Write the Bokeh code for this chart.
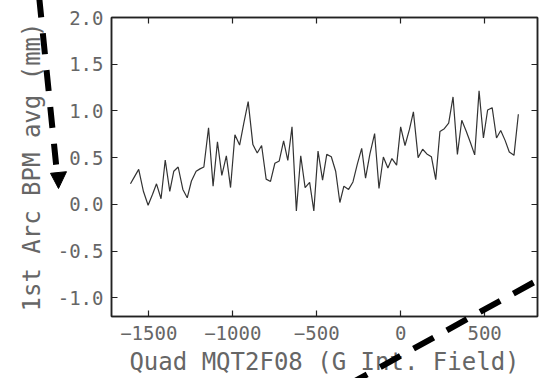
from bokeh.plotting import figure
from bokeh.models import LinearAxis, FixedTicker, PrintfTickFormatter, Range1d
from bokeh.embed import file_html
from bokeh.resources import INLINE

# Quadrupole integrated field scan and the averaged 1st-arc BPM reading
quad_field = [
    -1609, -1584, -1560, -1532, -1504, -1478, -1454, -1427, -1402, -1375,
    -1351, -1325, -1297, -1271, -1246, -1218, -1195, -1172, -1144, -1117,
    -1091, -1065, -1038, -1013, -987, -959, -934, -908, -880, -854,
    -828, -801, -775, -749, -723, -697, -672, -647, -621, -595,
    -569, -542, -517, -492, -465, -440, -413, -387, -362, -338,
    -310, -284, -258, -232, -209, -183, -155, -129, -103, -76,
    -52, -24, 0, 26, 52, 76, 104, 131, 156, 183,
    209, 234, 260, 286, 312, 338, 364, 390, 416, 441,
    467, 493, 518, 545, 571, 596, 622, 647, 675, 701,
]
bpm_avg = [
    0.22, 0.30, 0.375, 0.14, -0.01, 0.105, 0.22, 0.06, 0.475, 0.14,
    0.355, 0.40, 0.16, 0.07, 0.25, 0.355, 0.38, 0.40, 0.82, 0.195,
    0.67, 0.31, 0.52, 0.18, 0.745, 0.635, 0.87, 1.10, 0.64, 0.55,
    0.63, 0.27, 0.245, 0.44, 0.465, 0.68, 0.47, 0.83, -0.07, 0.52,
    0.18, 0.235, -0.07, 0.57, 0.26, 0.535, 0.51, 0.355, 0.02, 0.195,
    0.16, 0.24, 0.43, 0.60, 0.28, 0.54, 0.757, 0.17, 0.507, 0.39,
    0.49, 0.42, 0.83, 0.63, 0.80, 0.99, 0.50, 0.59, 0.54, 0.51,
    0.265, 0.78, 0.81, 0.87, 1.15, 0.535, 0.90, 0.785, 0.66, 0.53,
    1.215, 0.71, 1.01, 1.035, 0.71, 0.79, 0.685, 0.56, 0.525, 0.965,
]
x_ticks = [-1500, -1000, -500, 0, 500]
y_ticks = [-1.0, -0.5, 0.0, 0.5, 1.0, 1.5, 2.0]

FONT = "DejaVu Sans Mono"
TEXT_COLOR = "#666666"
FRAME_COLOR = "#222222"

X_LO, X_HI = -1722, 815
Y_LO, Y_HI = -1.2, 2.0
W, H = 539, 378
LEFT, RIGHT, TOP, BOTTOM = 111, 2, 17, 62
FRAME_W = W - LEFT - RIGHT
FRAME_H = H - TOP - BOTTOM

p = figure(width=W, height=H, output_backend="svg", toolbar_location=None,
           x_range=Range1d(X_LO, X_HI), y_range=Range1d(Y_LO, Y_HI),
           min_border_left=LEFT, min_border_right=RIGHT,
           min_border_top=TOP, min_border_bottom=BOTTOM)
p.grid.visible = False
p.background_fill_color = "white"
p.border_fill_color = "white"
p.outline_line_color = FRAME_COLOR
p.outline_line_width = 1.5

p.line(quad_field, bpm_avg, line_color="#333333", line_width=1.2)


def style_axis(ax, ticks, show_labels=True):
    ax.ticker = FixedTicker(ticks=ticks)
    ax.axis_line_color = FRAME_COLOR
    ax.axis_line_width = 1.5
    ax.major_tick_in = 6
    ax.major_tick_out = 0
    ax.major_tick_line_color = FRAME_COLOR
    ax.major_tick_line_width = 1.2
    ax.minor_tick_line_color = None
    if show_labels:
        ax.major_label_text_font = FONT
        ax.major_label_text_font_size = "19px"
        ax.major_label_text_color = TEXT_COLOR
        ax.axis_label_text_font = FONT
        ax.axis_label_text_font_size = "24px"
        ax.axis_label_text_font_style = "normal"
        ax.axis_label_text_color = TEXT_COLOR
    else:
        # tick marks only, no labels on the mirrored axes
        ax.major_label_text_font_size = "1px"
        ax.major_label_text_color = None
        ax.major_label_standoff = 0


xa = p.xaxis[0]
style_axis(xa, x_ticks)
xa.axis_label = "Quad MQT2F08 (G Int. Field)"
xa.major_label_standoff = 9
xa.axis_label_standoff = 5

ya = p.yaxis[0]
style_axis(ya, y_ticks)
ya.formatter = PrintfTickFormatter(format="%.1f")
ya.axis_label = "1st Arc BPM avg (mm)"
ya.major_label_standoff = 8
ya.axis_label_standoff = 9

top = LinearAxis()
style_axis(top, x_ticks, show_labels=False)
p.add_layout(top, "above")

right = LinearAxis()
style_axis(right, y_ticks, show_labels=False)
p.add_layout(right, "right")


# ---- thick dashed overlay arrows, placed by canvas pixel position ----
def px_to_data(px, py):
    x = X_LO + (px - LEFT) / FRAME_W * (X_HI - X_LO)
    y = Y_HI - (py - TOP) / FRAME_H * (Y_HI - Y_LO)
    return x, y


def dashed_overlay(start, end, dash):
    (x0, y0), (x1, y1) = px_to_data(*start), px_to_data(*end)
    p.line([x0, x1], [y0, y1], line_color="black", line_width=6,
           line_dash=dash, line_cap="butt", level="overlay")


def head_overlay(tip, left, right):
    pts = [px_to_data(*q) for q in (tip, left, right)]
    p.patch([q[0] for q in pts], [q[1] for q in pts], fill_color="black",
            line_color="black", line_width=1, level="overlay")


# arrow pointing down along the y-axis label
dashed_overlay((38.6, -4.0), (56.4, 172.0), "21 16")
head_overlay((58.0, 188.0), (50.0, 172.8), (66.0, 171.2))
# dashed line rising across the lower right corner
dashed_overlay((533.0, 282.0), (350.0, 383.0), "23 15")

open("out.html", "w").write(file_html(p, INLINE))
